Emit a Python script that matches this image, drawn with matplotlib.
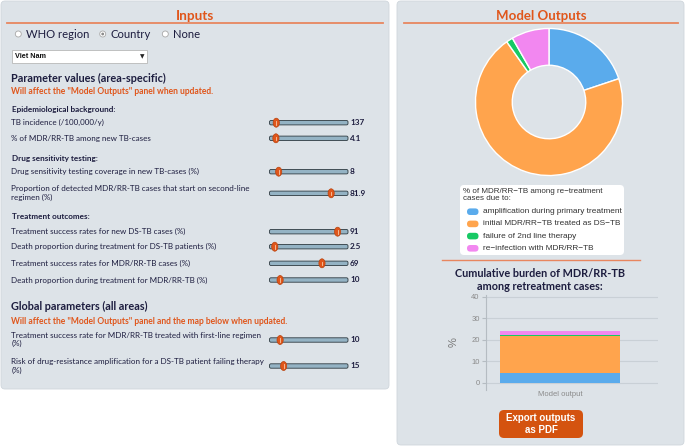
import numpy as np
import matplotlib
matplotlib.use("Agg")
import matplotlib.pyplot as plt
from matplotlib.patches import FancyBboxPatch, Rectangle, Circle, Ellipse

# ---- data ----
country = "Viet Nam"
radio_options = ["WHO region", "Country", "None"]
radio_selected = "Country"

epi_labels = ["TB incidence (/100,000/y)", "% of MDR/RR-TB among new TB-cases"]
epi_values = [137, 4.1]
epi_max = [3000, 100]

dst_labels = ["Drug sensitivity testing coverage in new TB-cases (%)",
              "Proportion of detected MDR/RR-TB cases that start on second-line\nregimen (%)"]
dst_values = [8, 81.9]
dst_max = [100, 100]

outcome_labels = ["Treatment success rates for new DS-TB cases (%)",
                  "Death proportion during treatment for DS-TB patients (%)",
                  "Treatment success rates for MDR/RR-TB cases (%)",
                  "Death proportion during treatment for MDR/RR-TB (%)"]
outcome_values = [91, 2.5, 69, 10]
outcome_max = [100, 100, 100, 100]

global_labels = ["Treatment success rate for MDR/RR-TB treated with first-line regimen\n(%)",
                 "Risk of drug-resistance amplification for a DS-TB patient failing therapy\n(%)"]
global_values = [10, 15]
global_max = [100, 100]

cause_labels = ["amplification during primary treatment",
                "initial MDR/RR\u2212TB treated as DS\u2212TB",
                "failure of 2nd line therapy",
                "re\u2212infection with MDR/RR\u2212TB"]
cause_values = [4.8, 17.0, 0.35, 2.0]
cause_colors = ["#5aabec", "#ffa44d", "#17c964", "#f287f0"]

# ---- style ----
UI = ["Lato", "DejaVu Sans"]
CH = ["Liberation Sans", "DejaVu Sans"]
NAVY = "#1d1d3f"
ORANGE = "#e0561b"
PANEL = "#dde3e8"

fig = plt.figure(figsize=(6.85, 4.46), dpi=100, facecolor="white")
ax = fig.add_axes([0, 0, 1, 1])
ax.set_xlim(0, 685)
ax.set_ylim(446, 0)
ax.axis("off")

def panel(x0, y0, x1, y1):
    ax.add_patch(FancyBboxPatch((x0 + 4, y0 + 4), x1 - x0 - 8, y1 - y0 - 8,
                                boxstyle="round,pad=4", fc=PANEL, ec="#cfd6dc", lw=0.6))

panel(1, 1, 389, 389)
panel(397, 1, 684, 445)

# titles
ax.text(195, 15.5, "Inputs", ha="center", va="center", family=UI, fontsize=9.8,
        fontweight="bold", color=ORANGE)
ax.plot([7, 383], [22.7, 22.7], color="#e8865f", lw=1.3)
ax.text(541, 15.5, "Model Outputs", ha="center", va="center", family=UI, fontsize=9.5,
        fontweight="bold", color=ORANGE)
ax.plot([404, 678], [22.7, 22.7], color="#e8865f", lw=1.3)

# radio buttons
radio_x = [18.3, 102.7, 165.3]
for rx, opt in zip(radio_x, radio_options):
    ax.add_patch(Circle((rx, 34), 3, fc="white", ec="#a8a8a8", lw=0.6))
    if opt == radio_selected:
        ax.add_patch(Circle((rx, 34), 1.4, fc="#8a8a8a", ec="none"))
    ax.text(rx + 7.5, 34.5, opt, ha="left", va="center", family=UI, fontsize=8.1, color=NAVY)

# dropdown
ax.add_patch(Rectangle((12, 50), 135, 13, fc="white", ec="#b8b8b8", lw=0.6))
ax.text(15, 56.5, country, ha="left", va="center", family=CH, fontsize=5.2,
        fontweight="bold", color="#111111")
ax.text(142, 56.5, "\u25bc", ha="center", va="center", family=["DejaVu Sans"], fontsize=4.2,
        color="#222222")

# headings
ax.text(11.5, 78.3, "Parameter values (area-specific)", ha="left", va="center", family=UI,
        fontsize=7.8, fontweight="bold", color=NAVY)
ax.text(11.5, 91.7, 'Will affect the "Model Outputs" panel when updated.', ha="left",
        va="center", family=UI, fontsize=6.15, fontweight="bold", color=ORANGE)
ax.text(11.5, 306.7, "Global parameters (all areas)", ha="left", va="center", family=UI,
        fontsize=7.8, fontweight="bold", color=NAVY)
ax.text(11.5, 321.7, 'Will affect the "Model Outputs" panel and the map below when updated.',
        ha="left", va="center", family=UI, fontsize=6.15, fontweight="bold", color=ORANGE)

for y, s in [(109.3, "Epidemiological background:"), (159, "Drug sensitivity testing:"),
             (216.7, "Treatment outcomes:")]:
    ax.text(12, y, s, ha="left", va="center", family=UI, fontsize=5.9, fontweight="bold",
            color=NAVY)

TRACK0, TRACK1 = 269.5, 348
THUMB0, THUMB1 = 273, 344

def slider(y_label, y_track, label, value, vmax):
    ax.text(11.5, y_label, label, ha="left", va="center", family=UI, fontsize=5.75,
            color=NAVY, linespacing=1.2)
    ax.add_patch(FancyBboxPatch((TRACK0, y_track - 2.2), TRACK1 - TRACK0, 4.4,
                                boxstyle="round,pad=0,rounding_size=1.5",
                                fc="#94b3c4", ec="#2e3a40", lw=0.6))
    tx = THUMB0 + (THUMB1 - THUMB0) * value / vmax
    ax.add_patch(Ellipse((tx, y_track), 6.2, 9, fc=ORANGE, ec="#b8440f", lw=0.5))
    ax.plot([tx, tx], [y_track - 1.8, y_track + 1.8], color="#f6c9a8", lw=0.6)
    ax.text(350, y_track, f"{value:g}", ha="left", va="center", family=UI, fontsize=5.9,
            fontweight="bold", color=NAVY)

rows = [
    (122.7, 122.7, epi_labels[0], epi_values[0], epi_max[0]),
    (138.3, 138.3, epi_labels[1], epi_values[1], epi_max[1]),
    (171.7, 171.7, dst_labels[0], dst_values[0], dst_max[0]),
    (193, 193.3, dst_labels[1], dst_values[1], dst_max[1]),
]
for i, y in enumerate([231.7, 246.7, 263.3, 280]):
    rows.append((y, y, outcome_labels[i], outcome_values[i], outcome_max[i]))
rows.append((339.7, 340, global_labels[0], global_values[0], global_max[0]))
rows.append((366, 366, global_labels[1], global_values[1], global_max[1]))
for r in rows:
    slider(*r)

# ---- donut ----
def fig_box(x0, y0, x1, y1):
    return [x0 / 685, (446 - y1) / 446, (x1 - x0) / 685, (y1 - y0) / 446]

dax = fig.add_axes(fig_box(474, 27, 624, 177))
dax.pie(cause_values, colors=cause_colors, startangle=90, counterclock=False, radius=1,
        wedgeprops=dict(width=0.5, edgecolor="white", linewidth=1.0))
dax.set_xlim(-1.02, 1.02)
dax.set_ylim(-1.02, 1.02)
dax.set_aspect("equal")
dax.axis("off")

# legend box
ax.add_patch(FancyBboxPatch((462, 187), 160, 66, boxstyle="round,pad=2,rounding_size=4",
                            fc="white", ec="none"))
ax.text(463.5, 195, "% of MDR/RR\u2212TB among re\u2212treatment\ncases due to:", ha="left",
        va="center", family=CH, fontsize=5.8, color="#333333", linespacing=1.1)
for i, (lab, col) in enumerate(zip(cause_labels, cause_colors)):
    y = 211.7 + i * 12.2
    ax.add_patch(FancyBboxPatch((467, y - 3.3), 11.5, 6.6,
                                boxstyle="round,pad=0,rounding_size=3.3", fc=col, ec="none"))
    ax.text(483, y, lab, ha="left", va="center", family=CH, fontsize=5.95, color="#333333")

ax.plot([442, 640], [260, 260], color="#e8865f", lw=1.0)
ax.text(540, 280, "Cumulative burden of MDR/RR-TB\namong retreatment cases:", ha="center",
        va="center", family=UI, fontsize=7.8, fontweight="bold", color=NAVY,
        linespacing=1.2)

# ---- stacked bar ----
bax = fig.add_axes(fig_box(486, 295, 658, 390))
bax.set_facecolor("none")
bottom = 0
for v, col in zip(cause_values, cause_colors):
    bax.bar([0], [v], bottom=bottom, width=0.7, color=col, edgecolor="none", zorder=3)
    bottom += v
bax.set_xlim(-0.432, 0.571)
bax.set_ylim(-3.3, 40.7)
bax.set_yticks([0, 10, 20, 30, 40])
bax.grid(axis="y", color="#c9d0d6", lw=0.8, zorder=0)
for s in ["top", "right", "bottom"]:
    bax.spines[s].set_visible(False)
bax.spines["left"].set_color("#b5bcc2")
bax.spines["left"].set_linewidth(0.8)
bax.tick_params(axis="y", length=3, color="#b5bcc2", labelsize=5.5, labelcolor="#8a8a8a", pad=1.5)
bax.set_xticks([0])
bax.set_xticklabels(["Model output"], family=CH, fontsize=5.5, color="#8a8a8a")
bax.tick_params(axis="x", length=0, pad=1)
for t in bax.get_yticklabels():
    t.set_family(CH)
bax.set_ylabel("%", family=CH, fontsize=8, color="#777777", labelpad=9)

# export button
ax.add_patch(FancyBboxPatch((502, 413), 78, 22, boxstyle="round,pad=3,rounding_size=5",
                            fc="#d4530f", ec="none"))
ax.text(541, 424, "Export outputs\nas PDF", ha="center", va="center", family=CH, fontsize=7.0,
        fontweight="bold", color="white", linespacing=1.15)

fig.savefig("out.png", dpi=100, facecolor="white")
